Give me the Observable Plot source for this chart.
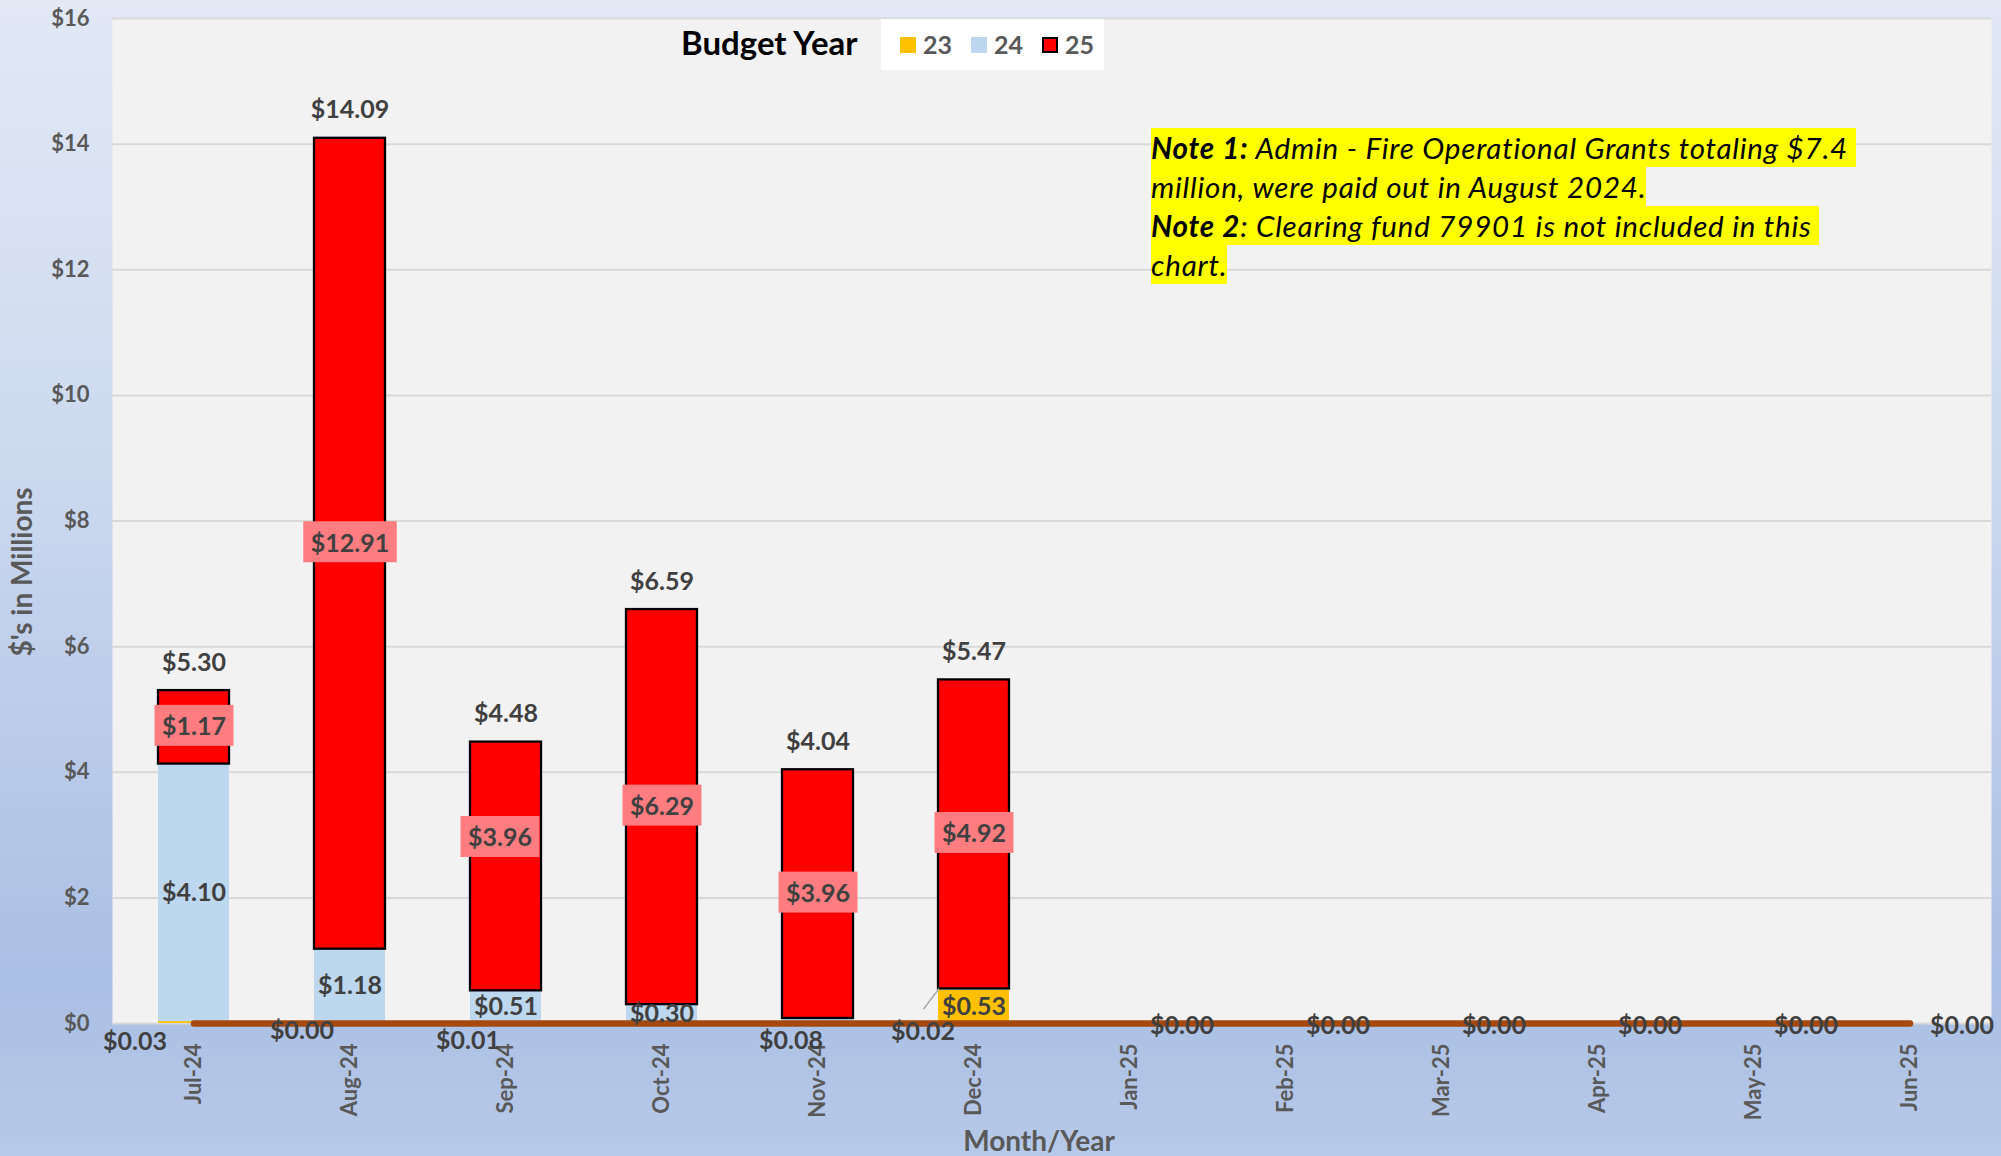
<!DOCTYPE html>
<html>
<head>
<meta charset="utf-8">
<script src="https://cdn.jsdelivr.net/npm/d3@7"></script>
<script src="https://cdn.jsdelivr.net/npm/@observablehq/plot@0.6"></script>
<style>
  html, body { margin: 0; padding: 0; }
  body { width: 2001px; height: 1156px; overflow: hidden; }
  #chart {
    position: relative; width: 2001px; height: 1156px;
    background: linear-gradient(180deg, #E2E9F5 0%, #CCD9EF 40%, #AABFE4 85%, #B7C9E8 100%);
    font-family: Lato, "Open Sans", sans-serif;
  }
  #chart svg { position: absolute; left: 0; top: 0; }
  .legend-title {
    position: absolute; left: 681px; top: 22px; font-weight: 700; font-size: 33px;
    color: #000; line-height: 40px; white-space: nowrap;
  }
  .legend {
    position: absolute; left: 881px; top: 19px; width: 223px; height: 51px; background: #fff;
    display: flex; align-items: center; padding-left: 19px; box-sizing: border-box;
  }
  .legend .item { display: flex; align-items: center; margin-right: 19px; }
  .legend .sw { width: 16px; height: 16px; margin-right: 7px; box-sizing: border-box; }
  .legend .lab { font-weight: 700; font-size: 25px; color: #595959; line-height: 25px; }
  .note { position: absolute; left: 1151px; top: 128px; font-style: italic; font-size: 29.5px; letter-spacing: 0.8px; color: #000; }
  .note div { width: fit-content; background: #FFFF00; height: 39px; line-height: 39px; white-space: pre; }
  .note b { font-weight: 700; }
</style>
</head>
<body>
<div id="chart"></div>
<script>
// ---- data ----
const months = ["Jul-24","Aug-24","Sep-24","Oct-24","Nov-24","Dec-24","Jan-25","Feb-25","Mar-25","Apr-25","May-25","Jun-25"];
const budgetYears = ["23","24","25"];
const year23 = [0.03, 0.003, 0.01, null, null, 0.53, null, null, null, null, null, null];
const year24 = [4.10, 1.18, 0.51, 0.30, 0.08, 0.02, null, null, null, null, null, null];
const year25 = [1.17, 12.91, 3.96, 6.29, 3.96, 4.92, null, null, null, null, null, null];
const totals = [5.30, 14.09, 4.48, 6.59, 4.04, 5.47, 0, 0, 0, 0, 0, 0];
const baseLine = [0, 0, 0, 0, 0, 0, 0, 0, 0, 0, 0, 0];
const yTicks = [0, 2, 4, 6, 8, 10, 12, 14, 16];
const yearColors = ["#FFC000", "#BDD7EE", "#FF0000"];

// ---- build tables ----
const seriesByYear = {"23": year23, "24": year24, "25": year25};
const colorOf = Object.fromEntries(budgetYears.map((y, i) => [y, yearColors[i]]));
const rows = [];
budgetYears.forEach(y => months.forEach((m, i) => {
  const v = seriesByYear[y][i];
  if (v != null) rows.push({month: m, year: y, value: v});
}));
const totalRows = months.map((m, i) => ({month: m, total: totals[i]}));
const lineRows = months.map((m, i) => ({month: m, v: baseLine[i]}));

const fmt = v => "$" + v.toFixed(2);
const key = d => d.year + "|" + d.month;

// manual label placements (as in the original workbook)
const nudges = {
  "25|Sep-24": [-6, -28],
  "24|Nov-24": [-27, 20],
  "24|Dec-24": [-51, 42],
  "23|Jul-24": [-59, 19],
  "23|Aug-24": [-48, 8],
  "23|Sep-24": [-38, 18]
};

const W = 2001, H = 1156;
const mL = 112, mR = 10, mT = 18, mB = 133;
const labelFont = {fontSize: 25, fontWeight: "bold", fill: "#404040"};

function segLabels(year) {
  return Plot.text(rows, Plot.stackY({
    x: "month", y: "value",
    text: d => (d.year === year && !(key(d) in nudges)) ? fmt(d.value) : "",
    ariaLabel: d => "seg" + d.year,
    ...labelFont
  }));
}
function nudgedLabels() {
  return Object.entries(nudges).map(([k, [dx, dy]]) => Plot.text(rows, Plot.stackY({
    x: "month", y: "value",
    text: d => key(d) === k ? fmt(d.value) : "",
    ariaLabel: d => "seg" + d.year,
    dx, dy, ...labelFont
  })));
}

const plot = Plot.plot({
  width: W, height: H,
  marginLeft: mL, marginRight: mR, marginTop: mT, marginBottom: mB,
  style: "background: transparent; font-family: Lato, 'Open Sans', sans-serif; overflow: visible;",
  x: {type: "band", domain: months, paddingInner: 0.543, paddingOuter: 0.2715, label: null},
  y: {domain: [0, 16], label: null},
  color: {type: "identity"},
  marks: [
    Plot.frame({fill: "#F2F2F2", stroke: "none"}),
    Plot.gridY(yTicks, {stroke: "#D9D9D9", strokeOpacity: 1, strokeWidth: 2}),
    Plot.barY(rows, Plot.stackY({
      x: "month", y: "value",
      fill: d => colorOf[d.year],
      stroke: d => d.year === "25" ? "#000000" : "none",
      strokeWidth: 2.3
    })),
    Plot.lineY(lineRows, {x: "month", y: "v", stroke: "#A5490E", strokeWidth: 6.5, strokeLinecap: "round"}),
    Plot.axisY(yTicks, {tickSize: 0, tickPadding: 23, tickFormat: d => "$" + d, fontSize: 22, fontWeight: "bold", fill: "#595959", label: null}),
    Plot.axisX({tickSize: 0, tickPadding: 20, tickRotate: -90, fontSize: 22, fontWeight: "bold", fill: "#595959", label: null}),
    segLabels("23"),
    segLabels("24"),
    segLabels("25"),
    ...nudgedLabels(),
    Plot.text(totalRows.filter(d => d.total > 0), {x: "month", y: "total", text: d => fmt(d.total), dy: -28, ...labelFont}),
    Plot.text(totalRows.filter(d => d.total === 0), {x: "month", y: "total", text: d => fmt(d.total), dx: 52, dy: 2, ...labelFont}),
    Plot.text(["Month/Year"], {frameAnchor: "bottom", text: d => d, dx: -13, dy: 127, fontSize: 28, fontWeight: "bold", fill: "#595959"}),
    Plot.text(["$'s in Millions"], {frameAnchor: "left", textAnchor: "middle", text: d => d, rotate: -90, dx: -89, dy: 51, fontSize: 28, fontWeight: "bold", fill: "#595959"})
  ]
});

const chart = document.getElementById("chart");
chart.appendChild(plot);

// pink label boxes behind the budget-year 25 labels
const svgns = "http://www.w3.org/2000/svg";
plot.querySelectorAll('text[aria-label="seg25"]').forEach(t => {
  if (!t.textContent) return;
  const b = t.getBBox();
  const r = document.createElementNS(svgns, "rect");
  r.setAttribute("x", b.x - 7.5);
  r.setAttribute("y", b.y - 5.5);
  r.setAttribute("width", b.width + 15);
  r.setAttribute("height", b.height + 11);
  r.setAttribute("fill", "#FF7C80");
  if (t.getAttribute("transform")) r.setAttribute("transform", t.getAttribute("transform"));
  t.parentNode.insertBefore(r, t);
});

// leader line for the Dec-24 budget-year 24 label
(function () {
  const xs = plot.scale("x"), ys = plot.scale("y");
  const i = months.indexOf("Dec-24");
  const base = (year23[i] || 0) + year24[i];
  const [dx, dy] = nudges["24|Dec-24"];
  const cx = xs.apply("Dec-24") + xs.bandwidth / 2;
  const ymid = ys.apply((year23[i] || 0) + year24[i] / 2);
  const line = document.createElementNS(svgns, "line");
  line.setAttribute("x1", cx + dx + 1);
  line.setAttribute("y1", ymid + dy - 22);
  line.setAttribute("x2", xs.apply("Dec-24") + 1);
  line.setAttribute("y2", ys.apply(base));
  line.setAttribute("stroke", "#A6A6A6");
  line.setAttribute("stroke-width", 1.5);
  plot.appendChild(line);
})();

// legend
const title = document.createElement("div");
title.className = "legend-title";
title.textContent = "Budget Year";
chart.appendChild(title);
const legend = document.createElement("div");
legend.className = "legend";
budgetYears.forEach((y, i) => {
  const it = document.createElement("div");
  it.className = "item";
  const sw = document.createElement("div");
  sw.className = "sw";
  sw.style.background = yearColors[i];
  if (y === "25") sw.style.border = "2px solid #000";
  const lab = document.createElement("div");
  lab.className = "lab";
  lab.textContent = y;
  it.appendChild(sw); it.appendChild(lab);
  legend.appendChild(it);
});
chart.appendChild(legend);

// note
const note = document.createElement("div");
note.className = "note";
note.innerHTML =
  '<div><b>Note 1:</b> Admin - Fire Operational Grants totaling $7.4 </div>' +
  '<div>million, were paid out in August 2024.</div>' +
  '<div><b>Note 2</b>: Clearing fund 79901 is not included in this </div>' +
  '<div>chart.</div>';
chart.appendChild(note);
</script>
</body>
</html>
